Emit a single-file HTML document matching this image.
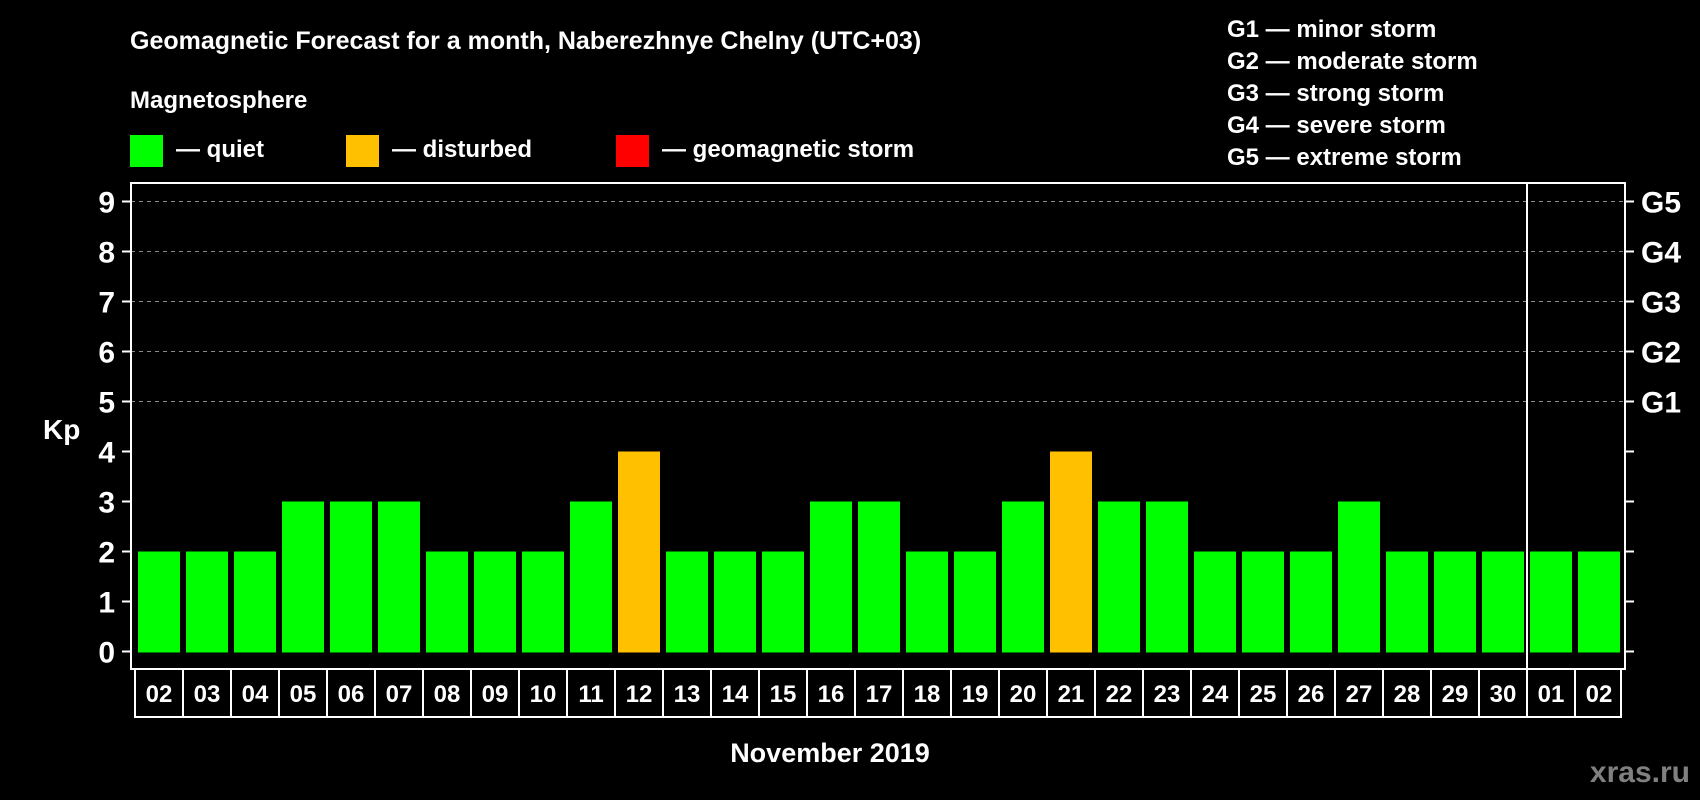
<!DOCTYPE html>
<html><head><meta charset="utf-8"><style>
html,body{margin:0;padding:0;background:#000;}
svg{display:block;font-family:"Liberation Sans",Arial,sans-serif;font-weight:bold;}
</style></head><body>
<svg id="chart" width="1700" height="800" viewBox="0 0 1700 800" xmlns="http://www.w3.org/2000/svg">
<rect x="0" y="0" width="1700" height="800" fill="#000"/>
<text x="130" y="49" fill="#fff" font-size="25">Geomagnetic Forecast for a month, Naberezhnye Chelny (UTC+03)</text>
<text x="130" y="108" fill="#fff" font-size="24">Magnetosphere</text>
<g>
<rect x="130" y="135" width="33" height="32" fill="#00ff00"/>
<text x="176" y="157" fill="#fff" font-size="24">— quiet</text></g>
<g>
<rect x="346" y="135" width="33" height="32" fill="#ffc000"/>
<text x="392" y="157" fill="#fff" font-size="24">— disturbed</text></g>
<g>
<rect x="616" y="135" width="33" height="32" fill="#ff0000"/>
<text x="662" y="157" fill="#fff" font-size="24">— geomagnetic storm</text></g>
<g font-size="24" fill="#fff">
<text x="1227" y="37">G1 — minor storm</text>
<text x="1227" y="69">G2 — moderate storm</text>
<text x="1227" y="101">G3 — strong storm</text>
<text x="1227" y="133">G4 — severe storm</text>
<text x="1227" y="165">G5 — extreme storm</text>
</g>
<g id="plot"></g>
<text x="43" y="439" fill="#fff" font-size="28">Kp</text>
<text x="830" y="762" fill="#fff" font-size="27" text-anchor="middle">November 2019</text>
<text x="1690" y="782" fill="#808080" font-size="30" text-anchor="end">xras.ru</text>
</svg>
<script>
const dayLabels = ["02","03","04","05","06","07","08","09","10","11","12","13","14","15","16","17","18","19","20","21","22","23","24","25","26","27","28","29","30","01","02"];
const kpValues = [2,2,2,3,3,3,2,2,2,3,4,2,2,2,3,3,2,2,3,4,3,3,2,2,2,3,2,2,2,2,2];
const yTicks = [0,1,2,3,4,5,6,7,8,9];
const gLabels = ["G1","G2","G3","G4","G5"];
const gLevels = [5,6,7,8,9];
const monthBreakIndex = 29;

const NS = "http://www.w3.org/2000/svg";
const plot = document.getElementById("plot");
const frameL = 131, frameR = 1625, frameT = 183, frameB = 669;
const y0 = 651.5, unit = 50;
const pitch = (1578 - 138) / 30;
function yScale(v){ return y0 - v * unit; }
function xBar(i){ return 138 + i * pitch; }
function xCell(i){ return 135 + i * pitch; }
function mk(tag, attrs){ const e = document.createElementNS(NS, tag); for (const k in attrs) e.setAttribute(k, attrs[k]); plot.appendChild(e); return e; }
function color(v){ return v >= 5 ? "#ff0000" : (v >= 4 ? "#ffc000" : "#00ff00"); }

// gridlines
gLevels.forEach(function(v){
  const l = mk("line", {x1: frameL, x2: frameR, y1: yScale(v), y2: yScale(v), stroke: "#8a8a8a", "stroke-width": 1, "stroke-dasharray": "4 4"});
  
  
});
// bars
kpValues.forEach(function(v, i){
  const r = mk("rect", {x: xBar(i), y: yScale(v), width: 42, height: y0 - yScale(v) + 1, fill: color(v)});
  
  
});
// frame
const fr = mk("rect", {x: frameL, y: frameT, width: frameR - frameL, height: frameB - frameT, fill: "none", stroke: "#fff", "stroke-width": 2});


const dv = mk("line", {x1: xCell(monthBreakIndex), x2: xCell(monthBreakIndex), y1: frameT, y2: frameB, stroke: "#fff", "stroke-width": 2});


// y ticks
yTicks.forEach(function(v){
  const y = yScale(v);
  const t = mk("line", {x1: 122, x2: frameL, y1: y, y2: y, stroke: "#fff", "stroke-width": 2});
  
  
  const t2 = mk("line", {x1: frameR, x2: frameR + 9, y1: y, y2: y, stroke: "#fff", "stroke-width": 2});
  
  
  const tx = mk("text", {x: 115, y: y + 11, fill: "#fff", "font-size": 30, "text-anchor": "end"});
  tx.textContent = v;
  
  
});
gLabels.forEach(function(g, i){
  const tx = mk("text", {x: 1641, y: yScale(gLevels[i]) + 11, fill: "#fff", "font-size": 30});
  tx.textContent = g;
  
  
});
// x label cells
const box = mk("rect", {x: xCell(0), y: frameB, width: xCell(dayLabels.length) - xCell(0) - 2, height: 48, fill: "none", stroke: "#fff", "stroke-width": 2});


dayLabels.forEach(function(d, i){
  if (i > 0) {
    const l = mk("line", {x1: xCell(i), x2: xCell(i), y1: frameB, y2: frameB + 48, stroke: "#fff", "stroke-width": 2});
    
    
  }
  const tx = mk("text", {x: xBar(i) + 21, y: frameB + 33, fill: "#fff", "font-size": 24, "text-anchor": "middle"});
  tx.textContent = d;
  
  
});
</script>
</body></html>
